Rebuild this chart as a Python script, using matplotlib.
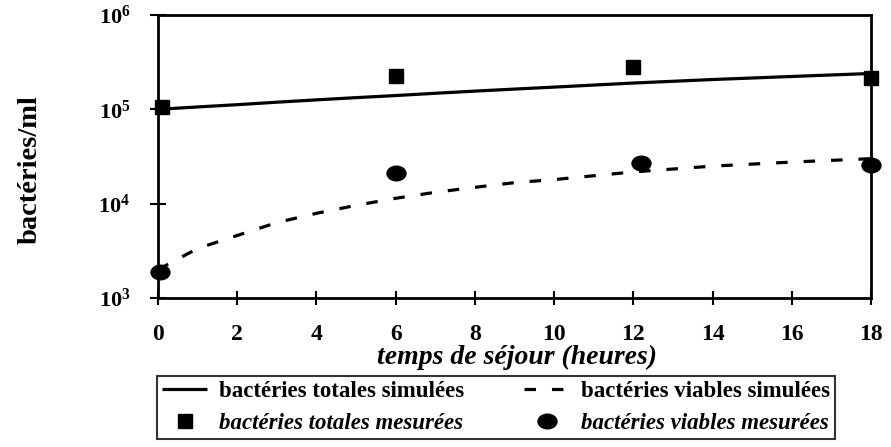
import matplotlib
matplotlib.use("Agg")
import matplotlib.pyplot as plt
from matplotlib.markers import MarkerStyle
from matplotlib.transforms import Affine2D

plt.rcParams['font.family'] = ['Liberation Serif', 'DejaVu Serif']
plt.rcParams['font.weight'] = 'bold'
plt.rcParams['mathtext.fontset'] = 'custom'
plt.rcParams['mathtext.rm'] = 'Liberation Serif:bold'
plt.rcParams['mathtext.it'] = 'Liberation Serif:bold:italic'
plt.rcParams['mathtext.bf'] = 'Liberation Serif:bold'

# simulated curves
sim_t = [0, 1, 2, 3, 4, 5, 6, 7, 8, 9, 10, 12, 14, 16, 18]
sim_totales = [1.0e5, 1.06e5, 1.12e5, 1.19e5, 1.26e5, 1.33e5, 1.40e5, 1.48e5,
               1.56e5, 1.64e5, 1.72e5, 1.9e5, 2.07e5, 2.23e5, 2.4e5]
sim_viables = [2.0e3, 3.35e3, 4.6e3, 6.3e3, 7.9e3, 9.6e3, 1.14e4, 1.32e4,
               1.49e4, 1.67e4, 1.8e4, 2.17e4, 2.5e4, 2.76e4, 3.0e4]

# measurements
mes_t_totales = [0.1, 6.0, 12.0, 18.0]
mes_totales = [1.07e5, 2.26e5, 2.8e5, 2.15e5]
mes_t_viables = [0.05, 6.0, 12.2, 18.0]
mes_viables = [1.9e3, 2.1e4, 2.7e4, 2.6e4]

x_ticks = [0, 2, 4, 6, 8, 10, 12, 14, 16, 18]
y_ticks = [1e3, 1e4, 1e5, 1e6]
y_labels = [r'$10^{3}$', r'$10^{4}$', r'$10^{5}$', r'$10^{6}$']

fig = plt.figure(figsize=(8.91, 4.47), dpi=100)
ax = fig.add_axes([158 / 891, 1 - 298 / 447, (871 - 158) / 891, (298 - 15) / 447])

l1, = ax.plot(sim_t, sim_totales, color='black', lw=2.3, solid_capstyle='butt')
l2, = ax.plot(sim_t, sim_viables, color='black', lw=2.3, dashes=(3.6, 5.0))
ellipse = MarkerStyle('o', transform=Affine2D().scale(1.3, 1.0))
m1, = ax.plot(mes_t_totales, mes_totales, 's', color='black', ms=10, clip_on=False)
m2, = ax.plot(mes_t_viables, mes_viables, linestyle='none', marker=ellipse,
              color='black', ms=10.5, clip_on=False)

ax.set_yscale('log')
ax.set_xlim(0, 18)
ax.set_ylim(1e3, 1e6)
ax.set_xticks(x_ticks)
ax.set_xticklabels([str(t) for t in x_ticks], fontsize=17, fontweight='bold')
ax.set_yticks(y_ticks)
ax.set_yticklabels(y_labels, fontsize=16)
ax.minorticks_off()
ax.tick_params(axis='x', direction='inout', length=10, width=1.5, pad=14)
ax.tick_params(axis='y', direction='inout', length=12, width=1.5, pad=14)
for s in ax.spines.values():
    s.set_linewidth(2)

fig.text(517 / 891, 1 - 357 / 447, 'temps de séjour (heures)', fontsize=20,
         fontweight='bold', style='italic', ha='center', va='center')
fig.text(30 / 891, 1 - 170 / 447, 'bactéries/ml', rotation=90, fontsize=20.5,
         fontweight='bold', ha='center', va='center')

leg = fig.legend([l1, m1, l2, m2],
                 ['bactéries totales simulées', 'bactéries totales mesurées',
                  'bactéries viables simulées', 'bactéries viables mesurées'],
                 ncol=2, loc='upper left', mode='expand',
                 bbox_to_anchor=(157 / 891, 1 - 441 / 447, (835 - 157) / 891, 65 / 447),
                 frameon=True, fancybox=False, edgecolor='black',
                 prop={'size': 16.5, 'weight': 'bold'}, handlelength=2.0,
                 borderpad=0.2, labelspacing=0.5, columnspacing=1.5,
                 handletextpad=0.5, borderaxespad=0)
leg.get_frame().set_linewidth(1.5)
leg.get_texts()[1].set_style('italic')
leg.get_texts()[3].set_style('italic')

fig.savefig('out.png', dpi=100)
